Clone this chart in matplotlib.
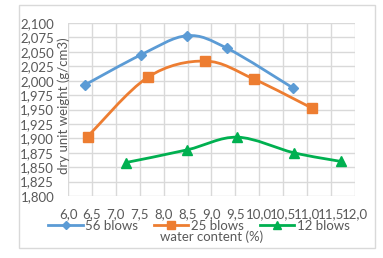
import matplotlib
matplotlib.use('Agg')
import matplotlib.pyplot as plt
from matplotlib.path import Path
from matplotlib.patches import PathPatch, Rectangle
from matplotlib.lines import Line2D
from matplotlib.ticker import FuncFormatter, MultipleLocator

plt.rcParams['font.family'] = ['Lato', 'DejaVu Sans']

# ---- data (water content %, dry unit weight g/cm3) ----
labels = ['56 blows', '25 blows', '12 blows']
x56 = [6.36, 7.53, 8.49, 9.33, 10.71]
y56 = [1.993, 2.045, 2.078, 2.056, 1.987]
x25 = [6.41, 7.67, 8.87, 9.88, 11.11]
y25 = [1.903, 2.006, 2.034, 2.003, 1.952]
x12 = [7.21, 8.49, 9.54, 10.72, 11.70]
y12 = [1.858, 1.880, 1.902, 1.875, 1.860]

colors = ['#5B9BD5', '#ED7D31', '#00B050']
markers = ['D', 's', '^']
msizes = [5.5, 6.5, 7]
grey = '#595959'
fs = 9.5


def smooth_path(xs, ys):
    # excel style smoothed line: bezier through the points
    pts = list(zip(xs, ys))
    verts = [pts[0]]
    codes = [Path.MOVETO]
    n = len(pts)
    for i in range(n - 1):
        p0 = pts[i - 1] if i > 0 else pts[i]
        p1 = pts[i]
        p2 = pts[i + 1]
        p3 = pts[i + 2] if i + 2 < n else pts[i + 1]
        c1 = (p1[0] + (p2[0] - p0[0]) / 6, p1[1] + (p2[1] - p0[1]) / 6)
        c2 = (p2[0] - (p3[0] - p1[0]) / 6, p2[1] - (p3[1] - p1[1]) / 6)
        verts += [c1, c2, p2]
        codes += [Path.CURVE4] * 3
    return Path(verts, codes)


fig = plt.figure(figsize=(3.83, 2.58), dpi=100)
fig.patches.append(Rectangle((19 / 383, 1 - 248 / 258), 356 / 383, 243 / 258,
                             transform=fig.transFigure, fill=False,
                             edgecolor='#d9d9d9', linewidth=1))
ax = fig.add_axes([68 / 383, 1 - 196 / 258, 287 / 383, 173 / 258])

series = [(x56, y56), (x25, y25), (x12, y12)]
handles = []
for (xs, ys), c, m, ms, lab in zip(series, colors, markers, msizes, labels):
    ax.add_patch(PathPatch(smooth_path(xs, ys), facecolor='none',
                           edgecolor=c, linewidth=2, zorder=3))
    ax.plot(xs, ys, linestyle='none', marker=m, markersize=ms, color=c, zorder=4)
    handles.append(Line2D([], [], color=c, linewidth=2, marker=m,
                          markersize=ms - 1, label=lab))

ax.set_xlim(6.0, 12.0)
ax.set_ylim(1.8, 2.1)
ax.xaxis.set_major_locator(MultipleLocator(0.5))
ax.yaxis.set_major_locator(MultipleLocator(0.025))
ax.xaxis.set_major_formatter(FuncFormatter(lambda v, p: f'{v:.1f}'.replace('.', ',')))
ax.yaxis.set_major_formatter(FuncFormatter(lambda v, p: f'{v:.3f}'.replace('.', ',')))
ax.grid(True, color='#d9d9d9', linewidth=1)
ax.set_axisbelow(True)
for s in ax.spines.values():
    s.set_visible(False)
ax.tick_params(length=0, labelsize=fs, colors=grey)
ax.tick_params(axis='y', pad=10)
ax.tick_params(axis='x', pad=9)

fig.text(64 / 383, 1 - 106 / 258, 'dry unit weight (g/cm3)', rotation=90,
         ha='center', va='center', fontsize=fs, color=grey)
fig.text(212 / 383, 1 - 237 / 258, 'water content (%)', ha='center',
         va='center', fontsize=fs, color=grey)
fig.legend(handles=handles, loc='center', bbox_to_anchor=(199 / 383, 1 - 226 / 258),
           ncol=3, frameon=False, fontsize=fs, labelcolor=grey,
           handlelength=2.6, handletextpad=0.2, columnspacing=1.2,
           borderpad=0, borderaxespad=0)

fig.savefig('out.png', dpi=100)
